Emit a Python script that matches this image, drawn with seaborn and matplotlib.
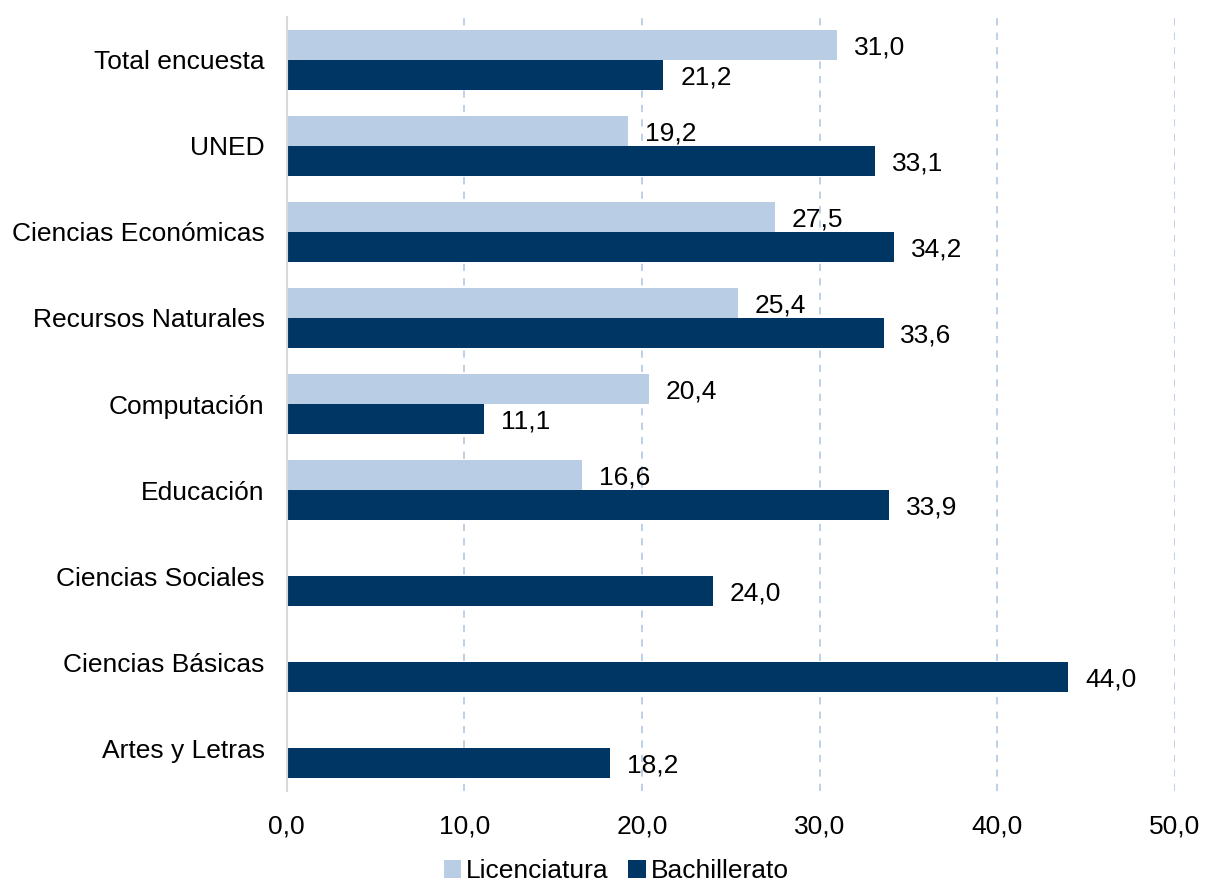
import pandas as pd
import numpy as np
import seaborn as sns
import matplotlib.pyplot as plt

# Datos
categorias = ['Total encuesta', 'UNED', 'Ciencias Económicas', 'Recursos Naturales',
              'Computación', 'Educación', 'Ciencias Sociales', 'Ciencias Básicas',
              'Artes y Letras']
licenciatura = [31.0, 19.2, 27.5, 25.4, 20.4, 16.6, np.nan, np.nan, np.nan]
bachillerato = [21.2, 33.1, 34.2, 33.6, 11.1, 33.9, 24.0, 44.0, 18.2]
series = ['Licenciatura', 'Bachillerato']
colores = ['#B9CDE5', '#003663']

df = pd.DataFrame({
    'categoria': categorias * 2,
    'serie': ['Licenciatura'] * len(categorias) + ['Bachillerato'] * len(categorias),
    'valor': licenciatura + bachillerato,
})

sns.set_style('white')
plt.rcParams['font.family'] = ['Liberation Sans', 'DejaVu Sans']
plt.rcParams['text.color'] = 'black'
plt.rcParams['xtick.color'] = 'black'
plt.rcParams['ytick.color'] = 'black'

fig = plt.figure(figsize=(12.05, 8.86), dpi=100)
ax = fig.add_axes([0.238, 0.107, 0.737, 0.874])

sns.barplot(data=df, y='categoria', x='valor', hue='serie', order=categorias,
            hue_order=series, palette=colores, orient='h', width=0.7,
            saturation=1, errorbar=None, linewidth=0, ax=ax, legend=True)

fs = 19

# etiquetas de datos
for cont in ax.containers:
    for bar in cont:
        w = bar.get_width()
        if np.isnan(w) or w == 0:
            continue
        ax.text(w + 0.95, bar.get_y() + bar.get_height() / 2 + 0.03,
                f'{w:.1f}'.replace('.', ','), va='center', ha='left', fontsize=fs)

ax.set_xlim(0, 50)
ax.set_ylim(len(categorias) - 0.5, -0.5)
ax.set_xticks(range(0, 51, 10))
ax.set_xticklabels([f'{v:.1f}'.replace('.', ',') for v in range(0, 51, 10)], fontsize=fs)
ax.tick_params(axis='y', labelsize=fs, length=0, pad=16)
ax.tick_params(axis='x', length=0, pad=17)
ax.set_xlabel('')
ax.set_ylabel('')

ax.xaxis.grid(True, linestyle=(0, (4, 4)), color='#B9CDE5', linewidth=1.3)
ax.set_axisbelow(True)
for s in ['top', 'right', 'bottom']:
    ax.spines[s].set_visible(False)
ax.spines['left'].set_color('#D9D9D9')
ax.spines['left'].set_linewidth(1.5)

ax.legend(loc='lower center', bbox_to_anchor=(0.371, -0.136), ncol=2, frameon=False,
          fontsize=fs, handlelength=0.65, handleheight=0.65, handletextpad=0.2,
          columnspacing=0.75, borderpad=0)

plt.savefig('out.png', dpi=100)
